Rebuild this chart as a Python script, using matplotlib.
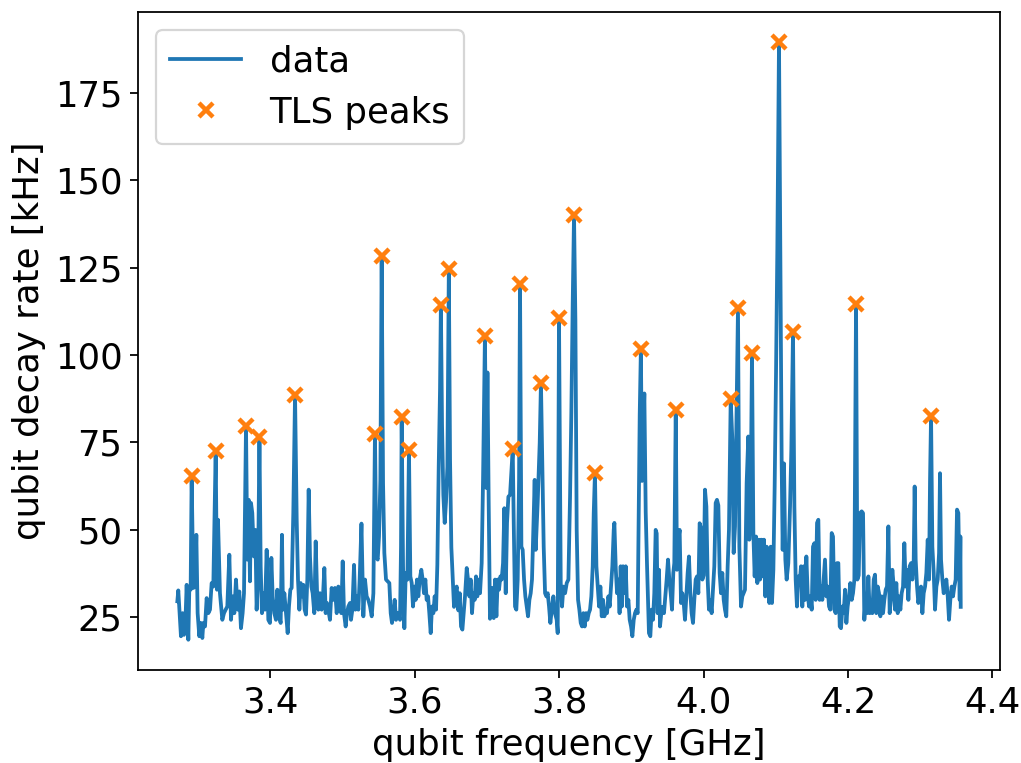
import numpy as np
import matplotlib.pyplot as plt

# qubit frequency [GHz] (digitised sweep)
freq_ghz = [
    3.2710, 3.2723, 3.2760, 3.2783, 3.2802, 3.2825, 3.2839, 3.2862, 3.2876, 3.2894,
    3.2908, 3.2931, 3.2954, 3.2973, 3.2991, 3.3014, 3.3033, 3.3056, 3.3070, 3.3093,
    3.3116, 3.3139, 3.3162, 3.3185, 3.3208, 3.3241, 3.3259, 3.3273, 3.3300, 3.3333,
    3.3356, 3.3379, 3.3402, 3.3430, 3.3453, 3.3476, 3.3499, 3.3522, 3.3545, 3.3568,
    3.3591, 3.3614, 3.3633, 3.3661, 3.3679, 3.3698, 3.3716, 3.3730, 3.3748, 3.3771,
    3.3790, 3.3808, 3.3827, 3.3847, 3.3864, 3.3882, 3.3901, 3.3924, 3.3947, 3.3970,
    3.3993, 3.4012, 3.4030, 3.4053, 3.4076, 3.4095, 3.4118, 3.4141, 3.4159, 3.4173,
    3.4192, 3.4215, 3.4238, 3.4256, 3.4275, 3.4293, 3.4316, 3.4340, 3.4363, 3.4381,
    3.4400, 3.4418, 3.4436, 3.4455, 3.4473, 3.4492, 3.4510, 3.4529, 3.4547, 3.4566,
    3.4584, 3.4607, 3.4626, 3.4644, 3.4663, 3.4686, 3.4709, 3.4727, 3.4746, 3.4764,
    3.4783, 3.4801, 3.4824, 3.4847, 3.4870, 3.4893, 3.4917, 3.4940, 3.4963, 3.4981,
    3.5000, 3.5018, 3.5041, 3.5060, 3.5078, 3.5101, 3.5115, 3.5134, 3.5157, 3.5175,
    3.5194, 3.5217, 3.5235, 3.5260, 3.5286, 3.5309, 3.5332, 3.5355, 3.5379, 3.5402,
    3.5425, 3.5447, 3.5466, 3.5485, 3.5503, 3.5522, 3.5540, 3.5559, 3.5577, 3.5600,
    3.5623, 3.5646, 3.5665, 3.5683, 3.5702, 3.5720, 3.5739, 3.5757, 3.5776, 3.5794,
    3.5808, 3.5817, 3.5836, 3.5854, 3.5873, 3.5896, 3.5918, 3.5937, 3.5956, 3.5974,
    3.5993, 3.6011, 3.6029, 3.6048, 3.6066, 3.6089, 3.6108, 3.6126, 3.6145, 3.6163,
    3.6182, 3.6200, 3.6219, 3.6237, 3.6256, 3.6274, 3.6293, 3.6311, 3.6330, 3.6348,
    3.6360, 3.6376, 3.6394, 3.6413, 3.6431, 3.6450, 3.6470, 3.6487, 3.6505, 3.6524,
    3.6542, 3.6560, 3.6579, 3.6602, 3.6621, 3.6639, 3.6658, 3.6676, 3.6694, 3.6718,
    3.6736, 3.6755, 3.6773, 3.6791, 3.6810, 3.6828, 3.6847, 3.6865, 3.6884, 3.6902,
    3.6925, 3.6944, 3.6970, 3.6990, 3.7005, 3.7022, 3.7040, 3.7055, 3.7073, 3.7092,
    3.7110, 3.7129, 3.7147, 3.7165, 3.7184, 3.7202, 3.7221, 3.7239, 3.7258, 3.7276,
    3.7295, 3.7318, 3.7355, 3.7369, 3.7387, 3.7405, 3.7424, 3.7443, 3.7456, 3.7475,
    3.7493, 3.7512, 3.7530, 3.7549, 3.7567, 3.7586, 3.7604, 3.7622, 3.7641, 3.7659,
    3.7673, 3.7701, 3.7729, 3.7746, 3.7766, 3.7784, 3.7803, 3.7821, 3.7840, 3.7858,
    3.7876, 3.7895, 3.7918, 3.7941, 3.7964, 3.7978, 3.7996, 3.8020, 3.8038, 3.8057,
    3.8080, 3.8103, 3.8126, 3.8149, 3.8167, 3.8186, 3.8204, 3.8223, 3.8241, 3.8260,
    3.8278, 3.8297, 3.8315, 3.8334, 3.8352, 3.8371, 3.8389, 3.8408, 3.8426, 3.8444,
    3.8463, 3.8477, 3.8494, 3.8514, 3.8532, 3.8551, 3.8569, 3.8588, 3.8606, 3.8625,
    3.8643, 3.8661, 3.8680, 3.8698, 3.8717, 3.8735, 3.8754, 3.8763, 3.8782, 3.8800,
    3.8818, 3.8835, 3.8850, 3.8865, 3.8883, 3.8902, 3.8920, 3.8938, 3.8957, 3.8975,
    3.8994, 3.9012, 3.9031, 3.9049, 3.9068, 3.9086, 3.9100, 3.9114, 3.9130, 3.9146,
    3.9165, 3.9178, 3.9197, 3.9215, 3.9242, 3.9261, 3.9279, 3.9298, 3.9316, 3.9335,
    3.9349, 3.9362, 3.9381, 3.9395, 3.9413, 3.9432, 3.9450, 3.9469, 3.9487, 3.9506,
    3.9524, 3.9543, 3.9561, 3.9579, 3.9593, 3.9613, 3.9630, 3.9649, 3.9667, 3.9686,
    3.9704, 3.9723, 3.9741, 3.9760, 3.9778, 3.9796, 3.9815, 3.9833, 3.9852, 3.9870,
    3.9889, 3.9907, 3.9926, 3.9944, 3.9963, 3.9981, 4.0000, 4.0018, 4.0037, 4.0055,
    4.0073, 4.0092, 4.0110, 4.0129, 4.0147, 4.0166, 4.0184, 4.0203, 4.0221, 4.0240,
    4.0258, 4.0277, 4.0295, 4.0313, 4.0332, 4.0350, 4.0374, 4.0397, 4.0415, 4.0434,
    4.0457, 4.0475, 4.0494, 4.0517, 4.0535, 4.0552, 4.0572, 4.0595, 4.0618, 4.0632,
    4.0651, 4.0669, 4.0688, 4.0706, 4.0725, 4.0743, 4.0762, 4.0780, 4.0798, 4.0817,
    4.0835, 4.0854, 4.0872, 4.0891, 4.0909, 4.0928, 4.0946, 4.0965, 4.0983, 4.1002,
    4.1020, 4.1043, 4.1062, 4.1080, 4.1094, 4.1112, 4.1131, 4.1149, 4.1172, 4.1196,
    4.1214, 4.1237, 4.1256, 4.1274, 4.1292, 4.1311, 4.1329, 4.1348, 4.1366, 4.1385,
    4.1403, 4.1422, 4.1440, 4.1459, 4.1477, 4.1496, 4.1514, 4.1533, 4.1551, 4.1570,
    4.1588, 4.1606, 4.1625, 4.1643, 4.1662, 4.1680, 4.1699, 4.1717, 4.1736, 4.1754,
    4.1773, 4.1791, 4.1810, 4.1828, 4.1847, 4.1865, 4.1884, 4.1902, 4.1921, 4.1939,
    4.1958, 4.1976, 4.1994, 4.2013, 4.2031, 4.2050, 4.2068, 4.2087, 4.2110, 4.2128,
    4.2147, 4.2165, 4.2188, 4.2207, 4.2225, 4.2244, 4.2262, 4.2281, 4.2299, 4.2318,
    4.2336, 4.2355, 4.2373, 4.2391, 4.2410, 4.2428, 4.2447, 4.2465, 4.2484, 4.2502,
    4.2521, 4.2539, 4.2558, 4.2576, 4.2595, 4.2613, 4.2632, 4.2650, 4.2668, 4.2687,
    4.2705, 4.2724, 4.2742, 4.2761, 4.2779, 4.2798, 4.2816, 4.2835, 4.2853, 4.2872,
    4.2890, 4.2909, 4.2922, 4.2936, 4.2955, 4.2973, 4.2992, 4.3010, 4.3029, 4.3047,
    4.3066, 4.3084, 4.3103, 4.3121, 4.3135, 4.3149, 4.3167, 4.3186, 4.3204, 4.3223,
    4.3241, 4.3260, 4.3273, 4.3287, 4.3306, 4.3324, 4.3343, 4.3361, 4.3380, 4.3398,
    4.3416, 4.3435, 4.3453, 4.3472, 4.3490, 4.3509, 4.3527, 4.3546, 4.3555, 4.3560,
]

# qubit decay rate [kHz]
rate_khz = [
    29.6, 32.7, 19.6, 26.2, 20.0, 25.8, 34.3, 18.6, 33.8, 32.9,
    65.4, 33.4, 33.8, 48.6, 26.2, 19.6, 23.4, 19.1, 23.4, 22.4,
    30.5, 26.2, 27.2, 34.8, 33.8, 72.6, 32.9, 52.9, 31.9, 24.3,
    26.2, 27.2, 28.1, 42.9, 24.3, 31.0, 26.2, 35.8, 27.2, 32.4,
    21.9, 26.2, 31.9, 79.7, 41.5, 58.6, 35.3, 57.7, 54.8, 42.4,
    50.0, 27.2, 35.8, 76.6, 39.6, 26.2, 31.9, 27.2, 44.3, 24.3,
    23.4, 42.0, 31.0, 26.2, 24.3, 32.9, 25.3, 23.4, 48.6, 27.2,
    31.9, 26.2, 20.5, 28.1, 32.9, 33.4, 54.8, 88.6, 52.9, 35.8,
    27.2, 34.8, 31.0, 34.3, 27.2, 25.8, 35.8, 61.5, 42.4, 33.8,
    31.9, 26.2, 46.7, 32.9, 27.2, 31.9, 27.2, 31.0, 39.1, 26.2,
    29.1, 27.2, 24.3, 33.4, 30.0, 33.4, 26.2, 33.8, 31.0, 26.2,
    41.0, 26.2, 22.4, 26.2, 28.1, 29.1, 24.3, 27.2, 40.0, 27.2,
    31.0, 27.2, 35.8, 51.8, 25.3, 35.8, 31.0, 30.0, 28.1, 25.3,
    31.9, 77.4, 42.4, 41.5, 48.1, 64.3, 128.3, 63.3, 43.4, 35.8,
    35.3, 34.8, 26.2, 23.4, 26.2, 30.0, 24.3, 26.2, 25.3, 24.3,
    45.2, 82.4, 39.6, 21.9, 37.7, 35.8, 72.8, 36.7, 34.8, 28.1,
    33.8, 30.0, 35.8, 31.0, 35.8, 38.6, 35.8, 31.9, 35.8, 30.0,
    31.0, 26.2, 20.5, 28.1, 26.2, 31.0, 27.2, 40.0, 68.0, 90.0,
    114.3, 80.0, 60.0, 52.0, 58.0, 68.0, 124.6, 70.0, 45.0, 36.0,
    28.0, 31.9, 33.8, 27.0, 31.9, 22.4, 21.5, 26.2, 31.0, 39.1,
    35.8, 31.0, 35.8, 26.2, 31.9, 30.0, 36.7, 31.0, 35.8, 31.9,
    40.5, 64.3, 105.4, 62.0, 95.0, 58.0, 24.6, 26.2, 33.4, 24.8,
    35.8, 25.3, 35.8, 32.9, 36.7, 35.8, 40.5, 56.2, 31.9, 52.0,
    59.5, 60.0, 73.1, 52.0, 28.1, 27.2, 35.8, 64.3, 120.3, 45.2,
    44.3, 35.8, 31.0, 28.1, 25.3, 30.0, 31.9, 35.8, 50.0, 64.3,
    44.3, 58.0, 75.0, 92.0, 68.1, 45.2, 31.9, 31.0, 31.9, 28.1,
    23.4, 27.0, 31.0, 26.2, 24.3, 20.5, 110.6, 34.8, 28.1, 33.8,
    31.9, 34.8, 35.8, 59.5, 83.4, 115.0, 140.0, 110.0, 50.0, 30.0,
    27.2, 23.4, 22.4, 26.2, 22.4, 26.2, 24.3, 26.2, 27.2, 31.0,
    39.6, 54.8, 66.2, 39.6, 33.8, 28.1, 33.8, 25.3, 30.0, 25.3,
    27.2, 26.2, 31.0, 28.1, 33.8, 39.6, 50.0, 52.0, 39.0, 31.9,
    35.8, 26.2, 39.6, 28.1, 39.6, 31.9, 39.6, 28.1, 30.0, 24.3,
    22.4, 19.6, 24.3, 26.2, 27.2, 26.2, 54.8, 83.0, 101.7, 64.0,
    80.0, 89.0, 55.0, 40.0, 20.5, 19.6, 27.2, 24.3, 31.9, 50.0,
    49.0, 26.2, 38.6, 22.4, 26.2, 28.0, 26.2, 31.0, 35.8, 41.5,
    35.8, 31.9, 27.2, 37.7, 40.5, 84.3, 38.6, 47.2, 50.0, 29.1,
    31.9, 29.1, 24.3, 31.0, 37.7, 42.4, 31.9, 26.2, 23.4, 30.0,
    35.8, 36.7, 31.9, 51.9, 50.5, 35.8, 37.0, 61.5, 56.7, 35.8,
    27.2, 30.0, 26.2, 32.9, 39.6, 57.7, 58.6, 57.0, 37.7, 31.9,
    37.7, 30.0, 27.2, 25.3, 39.6, 50.0, 87.3, 75.7, 43.4, 51.0,
    85.0, 113.4, 45.2, 28.1, 31.0, 31.9, 32.9, 63.4, 76.7, 47.2,
    58.6, 100.6, 49.1, 36.7, 48.1, 34.8, 47.2, 35.8, 47.2, 36.7,
    47.2, 31.0, 45.2, 35.8, 29.1, 45.2, 29.1, 38.6, 62.4, 95.0,
    130.0, 189.5, 130.0, 69.1, 44.3, 69.0, 41.5, 35.8, 40.5, 56.7,
    72.9, 106.6, 56.7, 35.8, 28.1, 36.7, 34.8, 39.6, 28.1, 39.6,
    30.0, 42.4, 31.9, 28.1, 31.0, 27.2, 45.2, 46.2, 30.0, 52.0,
    52.9, 30.0, 33.8, 30.0, 35.8, 41.5, 31.0, 33.8, 28.1, 27.2,
    49.1, 48.1, 27.2, 26.2, 40.5, 40.5, 22.4, 21.9, 28.1, 26.2,
    32.9, 23.4, 28.1, 31.0, 34.8, 30.0, 31.9, 35.8, 114.6, 35.8,
    37.0, 54.8, 55.3, 54.8, 24.3, 31.0, 26.2, 36.7, 26.2, 28.1,
    26.2, 35.8, 37.2, 26.2, 33.8, 31.9, 25.3, 31.0, 26.2, 30.0,
    32.9, 33.8, 51.0, 26.2, 31.0, 38.6, 33.8, 27.2, 34.8, 26.2,
    31.0, 27.2, 31.9, 33.8, 46.2, 33.8, 38.6, 30.0, 39.6, 40.5,
    35.8, 41.5, 62.4, 41.5, 33.8, 29.1, 31.9, 33.8, 26.2, 31.9,
    33.8, 37.7, 47.2, 35.8, 64.3, 82.6, 45.2, 37.7, 27.2, 33.8,
    35.8, 43.4, 66.2, 41.5, 35.8, 31.9, 33.8, 35.8, 31.0, 24.3,
    30.0, 33.8, 31.0, 33.8, 35.8, 55.8, 54.8, 30.0, 48.1, 28.0,
]

# frequencies of the TLS peaks [GHz]
peak_freq = [
    3.2908, 3.3241, 3.3661, 3.3847, 3.4340, 3.5447, 3.5540, 3.5817, 3.5918,
    3.6360, 3.6470, 3.6970, 3.7355, 3.7456, 3.7746, 3.7996, 3.8204, 3.8494,
    3.9130, 3.9613, 4.0374, 4.0475, 4.0669, 4.1043, 4.1237, 4.2110, 4.3149,
]

assert len(freq_ghz) == len(rate_khz), (len(freq_ghz), len(rate_khz))

freq = np.array(freq_ghz)
rate = np.array(rate_khz)
idx = [int(np.argmin(np.abs(freq - f))) for f in peak_freq]

plt.rcParams["font.size"] = 16

fig = plt.figure(figsize=(1021 / 160, 763 / 160), dpi=160)
ax = fig.add_axes([138 / 1021, 1 - 670 / 763, 862 / 1021, 658 / 763])

ax.plot(freq, rate, color="C0", lw=1.7, label="data")
ax.plot(freq[idx], rate[idx], "x", color="C1", ms=6, mew=2, label="TLS peaks")

ax.set_xlim(3.2165, 4.4104)
ax.set_ylim(9.95, 198.05)
ax.set_xticks(np.arange(3.4, 4.41, 0.2))
ax.set_yticks([25, 50, 75, 100, 125, 150, 175])

ax.set_xlabel("qubit frequency [GHz]")
ax.set_ylabel("qubit decay rate [kHz]")
ax.legend(loc="upper left")

fig.savefig("out.png", dpi=160)
